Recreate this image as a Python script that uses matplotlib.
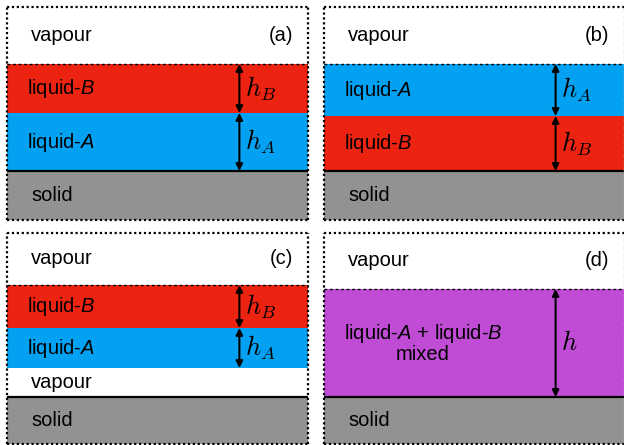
import matplotlib
matplotlib.use("Agg")
import matplotlib.pyplot as plt
import numpy as np

plt.rcParams['font.family'] = ['Liberation Sans', 'DejaVu Sans']
plt.rcParams['mathtext.fontset'] = 'custom'
plt.rcParams['mathtext.rm'] = 'Liberation Sans'
plt.rcParams['mathtext.it'] = 'Liberation Sans:italic'

# ---- data: layers (bottom -> top) and their thicknesses ----
panel_tags = ['(a)', '(b)', '(c)', '(d)']
panel_a_layers = ['solid', 'liquid-A', 'liquid-B', 'vapour']
panel_a_thick = [49, 58, 49, 57]
panel_b_layers = ['solid', 'liquid-B', 'liquid-A', 'vapour']
panel_b_thick = [49, 55, 52, 57]
panel_c_layers = ['solid', 'vapour', 'liquid-A', 'liquid-B', 'vapour']
panel_c_thick = [47, 29, 40, 43, 52]
panel_d_layers = ['solid', 'mixed', 'vapour']
panel_d_thick = [47, 108, 56]

layer_text = {
    'solid': 'solid',
    'vapour': 'vapour',
    'liquid-A': 'liquid-$A$',
    'liquid-B': 'liquid-$B$',
    'mixed': 'liquid-$A$ + liquid-$B$\nmixed',
}
layer_color = {
    'solid': '#929292',
    'vapour': '#ffffff',
    'liquid-A': '#03a1f2',
    'liquid-B': '#ec2310',
    'mixed': '#c04cd6',
}
height_label = {'liquid-A': '$h_A$', 'liquid-B': '$h_B$', 'mixed': '$h$'}

W, H = 624, 445
fig = plt.figure(figsize=(W / 100, H / 100), dpi=100)

# axes boxes in pixels: (left, top, right, bottom)
boxes = [(7, 7, 308, 220), (324, 7, 624, 220), (7, 233, 308, 444), (324, 233, 624, 444)]
panels = [(panel_a_layers, panel_a_thick), (panel_b_layers, panel_b_thick),
          (panel_c_layers, panel_c_thick), (panel_d_layers, panel_d_thick)]

FS = 14.5
arrow_x = 0.772

for i, ((layers, thick), box, tag) in enumerate(zip(panels, boxes, panel_tags)):
    l, t, r, b = box
    ax = fig.add_axes([l / W, 1 - b / H, (r - l) / W, (b - t) / H])
    ax.set_axis_off()
    total = sum(thick)
    ax.set_xlim(0, 1)
    ax.set_ylim(0, total)
    bottoms = np.concatenate([[0], np.cumsum(thick)[:-1]])
    for name, th, bt in zip(layers, thick, bottoms):
        ax.bar(0.5, th, bottom=bt, width=1.0, color=layer_color[name], linewidth=0, zorder=1)
    n = len(layers)
    for k, (name, th, bt) in enumerate(zip(layers, thick, bottoms)):
        yc = bt + th / 2
        if name == 'mixed':
            ax.text(0.33, yc, layer_text[name], ha='center', va='center', fontsize=FS,
                    linespacing=1.0, zorder=5)
        else:
            xl = 0.068 if name.startswith('liquid') else 0.08
            ax.text(xl, yc, layer_text[name], ha='left', va='center', fontsize=FS, zorder=5)
        if name in height_label:
            ax.annotate('', xy=(arrow_x, bt), xytext=(arrow_x, bt + th),
                        arrowprops=dict(arrowstyle='<|-|>', color='black', lw=1.5,
                                        mutation_scale=10, shrinkA=0, shrinkB=0), zorder=6)
            ax.text(arrow_x + 0.018, yc, height_label[name], ha='left', va='center',
                    fontsize=19, math_fontfamily='cm', zorder=6)
        if k == n - 1:
            ax.text(0.95, yc, tag, ha='right', va='center', fontsize=FS, zorder=5)
    # solid top line
    ax.axhline(thick[0], color='black', lw=1.6, zorder=4)
    # dotted line at top of liquid stack
    ax.axhline(total - thick[-1], color='black', lw=1.0, ls=(0, (2, 2)), zorder=4)
    # dotted frame
    border = dict(color='black', lw=1.6, ls=(0, (1, 1.2)), dash_capstyle='butt',
                  zorder=7, clip_on=False)
    ax.plot([0, 0], [0, total], **border)
    ax.plot([0, 1], [0, 0], **border)
    ax.plot([0, 1], [total, total], **border)
    if i in (1, 3):
        ax.plot([1, 1], [0, total], color='#bbbbbb', lw=1.0, ls=(0, (3, 2)), zorder=7,
                clip_on=False)
    else:
        ax.plot([1, 1], [0, total], **border)

fig.savefig('out.png', dpi=100)
